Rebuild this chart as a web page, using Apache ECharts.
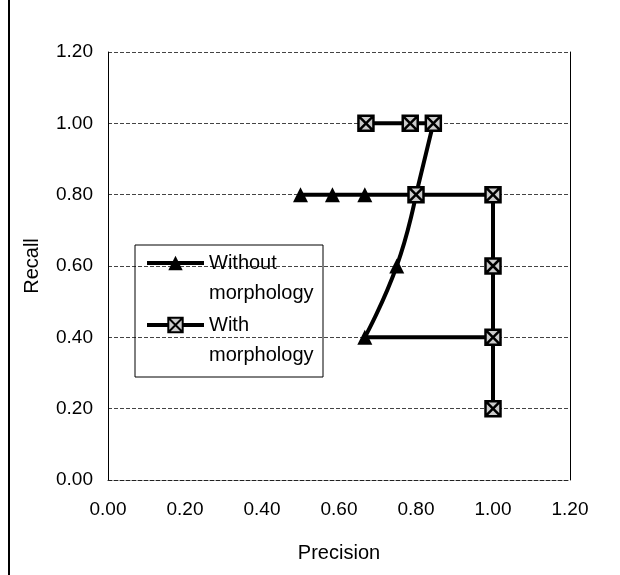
<!DOCTYPE html>
<html>
<head>
<meta charset="utf-8">
<script src="https://cdn.jsdelivr.net/npm/echarts@6/dist/echarts.min.js"></script>
<style>
  html, body { margin: 0; padding: 0; background: #fff; }
  #chart { width: 620px; height: 575px; }
</style>
</head>
<body>
<div id="chart"></div>
<script>
// values
var withoutPrecision = [0.50, 0.583, 0.667, 0.80, 0.75, 0.667, 1.00, 1.00];
var withoutRecall    = [0.80, 0.80, 0.80, 0.80, 0.60, 0.40, 0.40, 0.20];
var withPrecision = [0.67, 0.785, 0.845, 0.80, 1.00, 1.00, 1.00, 1.00];
var withRecall    = [1.00, 1.00, 1.00, 0.80, 0.80, 0.60, 0.40, 0.20];
var seriesNames = ['Without\nmorphology', 'With\nmorphology'];

var font = 'Liberation Sans, Arial, sans-serif';
var boxX = 'path://M0,0 L10,0 L10,10 L0,10 Z M0,0 L10,10 M10,0 L0,10';

function pairs(xs, ys) {
    var out = [];
    for (var i = 0; i < xs.length; i++) {
        out.push([xs[i], ys[i]]);
    }
    return out;
}

function fmt(v) {
    return v.toFixed(2);
}

var chart = echarts.init(document.getElementById('chart'));

var option = {
    backgroundColor: '#fff',
    animation: false,
    textStyle: {fontFamily: font, color: '#000'},
    grid: {left: 108, right: 50, top: 52, bottom: 95},
    legend: {
        orient: 'vertical',
        left: 145,
        top: 218,
        padding: 0,
        itemWidth: 57,
        itemHeight: 18,
        itemGap: -28,
        lineStyle: {width: 4, color: '#000'},
        // blank first line so the icon sits on the first text line
        formatter: function (name) {
            return '\n' + name;
        },
        textStyle: {fontFamily: font, fontSize: 20, color: '#000', lineHeight: 30},
        data: seriesNames
    },
    xAxis: {
        type: 'value',
        min: 0,
        max: 1.2,
        interval: 0.2,
        name: 'Precision',
        nameLocation: 'middle',
        nameGap: 63,
        nameTextStyle: {fontSize: 20, color: '#000'},
        axisLine: {show: true, lineStyle: {color: '#222', type: 'dashed', width: 1}},
        axisTick: {show: false},
        splitLine: {show: false},
        axisLabel: {fontSize: 19, color: '#000', margin: 20, formatter: fmt}
    },
    yAxis: [
        {
            type: 'value',
            min: 0,
            max: 1.2,
            interval: 0.2,
            name: 'Recall',
            nameLocation: 'middle',
            nameGap: 66,
            nameTextStyle: {fontSize: 20, color: '#000'},
            axisLine: {show: true, lineStyle: {color: '#000', width: 1}},
            axisTick: {show: false},
            splitLine: {show: true, lineStyle: {color: '#444', type: 'dashed', width: 1}},
            axisLabel: {fontSize: 19, color: '#000', margin: 15, formatter: fmt}
        },
        {
            type: 'value',
            position: 'right',
            min: 0,
            max: 1.2,
            interval: 0.2,
            axisLine: {show: true, lineStyle: {color: '#000', width: 1}},
            axisTick: {show: false},
            axisLabel: {show: false},
            splitLine: {show: false}
        }
    ],
    graphic: [
        {
            type: 'line',
            shape: {x1: 9, y1: 0, x2: 9, y2: 575},
            style: {stroke: '#000', lineWidth: 2}
        },
        {
            type: 'rect',
            shape: {x: 135, y: 245, width: 188, height: 132},
            style: {fill: 'none', stroke: '#000', lineWidth: 1},
            z: 100
        }
    ],
    series: [
        {
            name: seriesNames[0],
            type: 'line',
            smooth: 0.5,
            data: pairs(withoutPrecision, withoutRecall),
            symbol: 'triangle',
            symbolSize: 15,
            lineStyle: {color: '#000', width: 4},
            itemStyle: {color: '#000'},
            z: 2
        },
        {
            name: seriesNames[1],
            type: 'line',
            smooth: 0.5,
            data: pairs(withPrecision, withRecall),
            symbol: boxX,
            symbolSize: 15,
            lineStyle: {color: '#000', width: 4},
            itemStyle: {color: '#ccc', borderColor: '#000', borderWidth: 2.5},
            z: 3
        }
    ]
};

chart.setOption(option);
</script>
</body>
</html>
